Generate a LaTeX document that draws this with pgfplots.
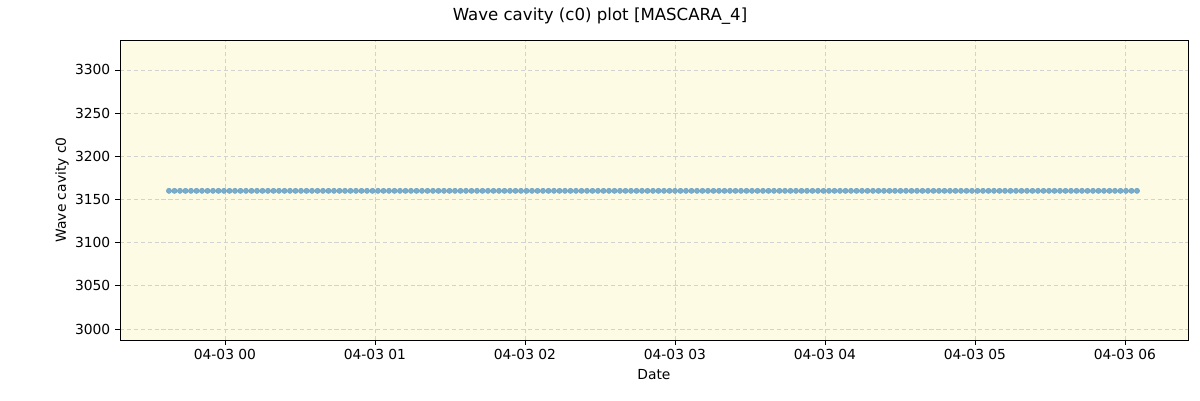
\documentclass[border=0pt]{standalone}
\usepackage{pgfplots}
\pgfplotsset{compat=1.18}
\usepackage{fontspec}
\setmainfont{DejaVu Sans}
\definecolor{bgc}{RGB}{253,251,227}
\definecolor{gridc}{RGB}{210,210,210}
\definecolor{mfill}{RGB}{122,172,204}
\definecolor{medge}{RGB}{100,156,192}
\begin{document}
\begin{tikzpicture}
\begin{axis}[
  scale only axis,
  width=771.8pt, height=216.8pt,
  xmin=-42, xmax=385.2,
  ymin=2987.3, ymax=3334.7,
  axis background/.style={fill=bgc},
  xtick={0,60,120,180,240,300,360},
  xticklabels={04-03 00,04-03 01,04-03 02,04-03 03,04-03 04,04-03 05,04-03 06},
  ytick={3000,3050,3100,3150,3200,3250,3300},
  /pgf/number format/assume math mode=true,
  /pgf/number format/1000 sep={},
  tick label style={font=\fontsize{10}{12}\selectfont},
  label style={font=\fontsize{10}{12}\selectfont},
  tick align=outside,
  major tick length=3.5pt,
  xtick pos=bottom, ytick pos=left,
  every tick/.style={black, line width=0.6pt},
  axis line style={line width=0.6pt},
  grid=major,
  major grid style={gridc, dash pattern=on 3pt off 2pt, line width=0.6pt},
  xlabel={Date},
  ylabel={Wave cavity c0},
  xlabel style={at={(axis description cs:0.5,-0.1167)}, anchor=center},
  ylabel style={at={(axis description cs:-0.0543,0.5)}, anchor=center},
  clip=false,
]
\addplot[only marks, mark=*, mark size=1.9pt, mark options={fill=mfill, draw=medge, line width=0.3pt}] coordinates {
(-22.4,3160)(-20.2,3160)(-18.0,3160)(-15.8,3160)(-13.6,3160)
(-11.4,3160)(-9.2,3160)(-7.0,3160)(-4.8,3160)(-2.6,3160)
(-0.4,3160)(1.8,3160)(4.0,3160)(6.2,3160)(8.4,3160)
(10.6,3160)(12.8,3160)(15.0,3160)(17.2,3160)(19.4,3160)
(21.6,3160)(23.8,3160)(26.0,3160)(28.2,3160)(30.4,3160)
(32.6,3160)(34.8,3160)(37.0,3160)(39.2,3160)(41.4,3160)
(43.6,3160)(45.8,3160)(48.0,3160)(50.2,3160)(52.4,3160)
(54.6,3160)(56.8,3160)(59.0,3160)(61.2,3160)(63.4,3160)
(65.6,3160)(67.8,3160)(70.0,3160)(72.2,3160)(74.4,3160)
(76.6,3160)(78.8,3160)(81.0,3160)(83.2,3160)(85.4,3160)
(87.6,3160)(89.8,3160)(92.0,3160)(94.2,3160)(96.4,3160)
(98.6,3160)(100.8,3160)(103.0,3160)(105.2,3160)(107.4,3160)
(109.6,3160)(111.8,3160)(114.0,3160)(116.2,3160)(118.4,3160)
(120.6,3160)(122.8,3160)(125.0,3160)(127.2,3160)(129.4,3160)
(131.6,3160)(133.8,3160)(136.0,3160)(138.2,3160)(140.4,3160)
(142.6,3160)(144.8,3160)(147.0,3160)(149.2,3160)(151.4,3160)
(153.6,3160)(155.8,3160)(158.0,3160)(160.2,3160)(162.4,3160)
(164.6,3160)(166.8,3160)(169.0,3160)(171.2,3160)(173.4,3160)
(175.6,3160)(177.8,3160)(180.0,3160)(182.2,3160)(184.4,3160)
(186.6,3160)(188.8,3160)(191.0,3160)(193.2,3160)(195.4,3160)
(197.6,3160)(199.8,3160)(202.0,3160)(204.2,3160)(206.4,3160)
(208.6,3160)(210.8,3160)(213.0,3160)(215.2,3160)(217.4,3160)
(219.6,3160)(221.8,3160)(224.0,3160)(226.2,3160)(228.4,3160)
(230.6,3160)(232.8,3160)(235.0,3160)(237.2,3160)(239.4,3160)
(241.6,3160)(243.8,3160)(246.0,3160)(248.2,3160)(250.4,3160)
(252.6,3160)(254.8,3160)(257.0,3160)(259.2,3160)(261.4,3160)
(263.6,3160)(265.8,3160)(268.0,3160)(270.2,3160)(272.4,3160)
(274.6,3160)(276.8,3160)(279.0,3160)(281.2,3160)(283.4,3160)
(285.6,3160)(287.8,3160)(290.0,3160)(292.2,3160)(294.4,3160)
(296.6,3160)(298.8,3160)(301.0,3160)(303.2,3160)(305.4,3160)
(307.6,3160)(309.8,3160)(312.0,3160)(314.2,3160)(316.4,3160)
(318.6,3160)(320.8,3160)(323.0,3160)(325.2,3160)(327.4,3160)
(329.6,3160)(331.8,3160)(334.0,3160)(336.2,3160)(338.4,3160)
(340.6,3160)(342.8,3160)(345.0,3160)(347.2,3160)(349.4,3160)
(351.6,3160)(353.8,3160)(356.0,3160)(358.2,3160)(360.4,3160)
(362.6,3160)(364.8,3160)
};
\end{axis}
\node[font=\fontsize{12}{14}\selectfont, inner sep=0pt, anchor=center] at ([xshift=-39pt,yshift=17.3pt]current axis.north) {Wave cavity (c0) plot [MASCARA\_4]};
\path ([xshift=-86.7pt,yshift=-43.4pt]current axis.south west) rectangle ([xshift=8.7pt,yshift=28.9pt]current axis.north east);
\end{tikzpicture}
\end{document}
